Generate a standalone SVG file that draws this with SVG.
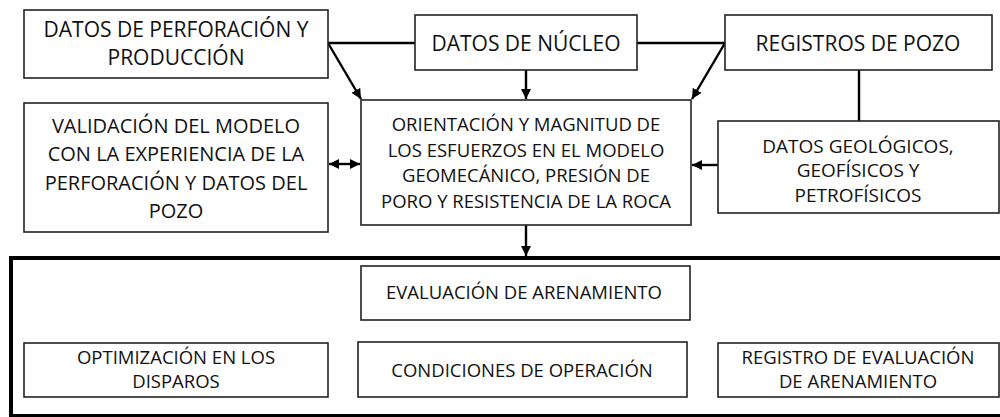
<svg xmlns="http://www.w3.org/2000/svg" width="1000" height="417" viewBox="0 0 1000 417">
<style>
.box{fill:#fff;stroke:#222;stroke-width:1.6}
text{font-family:"Open Sans","Liberation Sans",sans-serif;fill:#111;text-anchor:middle}
.f21{font-size:21px}.f20{font-size:20px}.f19{font-size:19px}.f18{font-size:18.5px}.f185{font-size:18.5px}
.ln{fill:none;stroke:#000;stroke-width:2.4}
</style>
<defs>
<marker id="ah" viewBox="0 0 10 10" refX="10" refY="5" markerWidth="4.2" markerHeight="4.2" orient="auto-start-reverse" markerUnits="strokeWidth">
<path d="M0,0 L10,5 L0,10 z" fill="#000"/>
</marker>
</defs>
<rect x="11" y="258" width="1000" height="158" fill="#fff" stroke="#000" stroke-width="4"/>
<g id="connectors">
<polyline class="ln" points="328,43 415,43"/>
<polyline class="ln" points="637,43 725,43"/>
<line class="ln" x1="328" y1="43" x2="361" y2="99" marker-end="url(#ah)"/>
<line class="ln" x1="526" y1="70" x2="526" y2="99" marker-end="url(#ah)"/>
<line class="ln" x1="725" y1="43" x2="692" y2="99" marker-end="url(#ah)"/>
<line class="ln" x1="859" y1="70" x2="859" y2="121"/>
<line class="ln" x1="718" y1="165" x2="692" y2="165" marker-end="url(#ah)"/>
<line class="ln" x1="329" y1="164" x2="360" y2="164" marker-start="url(#ah)" marker-end="url(#ah)"/>
<line class="ln" x1="526" y1="225" x2="526" y2="256" marker-end="url(#ah)"/>
</g>
<g id="n1"><rect class="box" x="24" y="10" width="304" height="68"/>
<text class="f21" x="176" y="37">DATOS DE PERFORACIÓN Y</text>
<text class="f21" x="176" y="65">PRODUCCIÓN</text></g>
<g id="n2"><rect class="box" x="415" y="15" width="222" height="55"/>
<text class="f21" x="526" y="51">DATOS DE NÚCLEO</text></g>
<g id="n3"><rect class="box" x="725" y="15" width="267" height="55"/>
<text class="f21" x="858" y="51">REGISTROS DE POZO</text></g>
<g id="n4"><rect class="box" x="24" y="103" width="304" height="129"/>
<text class="f20" x="176" y="133">VALIDACIÓN DEL MODELO</text>
<text class="f20" x="176" y="161">CON LA EXPERIENCIA DE LA</text>
<text class="f20" x="176" y="190">PERFORACIÓN Y DATOS DEL</text>
<text class="f20" x="176" y="218">POZO</text></g>
<g id="n5"><rect class="box" x="361" y="100" width="330" height="125"/>
<text class="f18" x="526" y="131">ORIENTACIÓN Y MAGNITUD DE</text>
<text class="f18" x="526" y="157">LOS ESFUERZOS EN EL MODELO</text>
<text class="f18" x="526" y="182">GEOMECÁNICO, PRESIÓN DE</text>
<text class="f18" x="526" y="208">PORO Y RESISTENCIA DE LA ROCA</text></g>
<g id="n6"><rect class="box" x="718" y="121" width="281" height="92"/>
<text class="f19" x="858" y="153">DATOS GEOLÓGICOS,</text>
<text class="f19" x="858" y="177">GEOFÍSICOS Y</text>
<text class="f19" x="858" y="202">PETROFÍSICOS</text></g>
<g id="n7"><rect class="box" x="361" y="266" width="329" height="54"/>
<text class="f185" x="524" y="299">EVALUACIÓN DE ARENAMIENTO</text></g>
<g id="n8"><rect class="box" x="24" y="343" width="304" height="54"/>
<text class="f185" x="176" y="364">OPTIMIZACIÓN EN LOS</text>
<text class="f185" x="176" y="388">DISPAROS</text></g>
<g id="n9"><rect class="box" x="358" y="342" width="329" height="55"/>
<text class="f185" x="522" y="377">CONDICIONES DE OPERACIÓN</text></g>
<g id="n10"><rect class="box" x="718" y="343" width="281" height="54"/>
<text class="f185" x="858" y="364">REGISTRO DE EVALUACIÓN</text>
<text class="f185" x="858" y="388">DE ARENAMIENTO</text></g>
</svg>
